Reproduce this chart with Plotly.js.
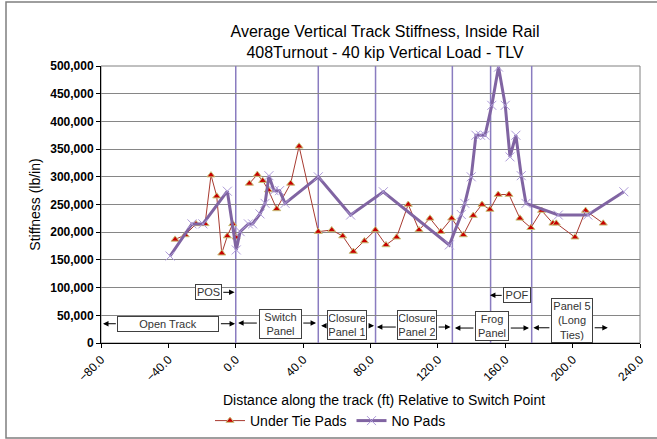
<!DOCTYPE html>
<html>
<head>
<meta charset="utf-8">
<script src="https://cdn.plot.ly/plotly-3.0.1.min.js"></script>
<style>
  html, body { margin: 0; padding: 0; background: #fff; }
  #chart { width: 657px; height: 439px; }
</style>
</head>
<body>
<div id="chart"></div>
<script>
// Stiffness measurements along the turnout (distance in ft from switch point, stiffness in lb/in)
const underPadsX = [-36, -30, -23.6, -18.2, -14.7, -11.3, -8.3, -5, -1.8, 0.2, 4,
  8.1, 12.8, 16, 19.4, 24.3, 32.6, 37.6, 49, 57, 63.5, 69.8, 76.4, 82.9, 89.2, 95.5,
  102.4, 108.8, 115.3, 121.7, 128.2, 135.1, 141, 146.2, 150.9, 155.8, 162.2, 168.7,
  175.2, 181.6, 188.3, 190.3, 201.4, 207.7, 218.2];
const underPadsY = [187000, 195000, 215000, 215000, 303000, 265000, 162000, 193000, 215000, 191000, null,
  288000, 304000, 293000, 276000, 242000, 288000, 355000, 201000, 204000, 193000, 165000, 184000, 204000, 177000, 191000,
  250000, 204000, 225000, 201000, 225000, 195000, 230000, 250000, 241000, 268000, 268000, 225000,
  208000, 239000, 216000, 216000, 191000, 239000, 216000];

const noPadsX = [-39, -26, -19.5, -5, 0.3, 2.6, 7.5, 10, 14.4, 17.4, 19.7, 22.7, 26, 29.3,
  49, 68.2, 87.6, 126.8, 133.9, 136, 139.8, 142.6, 145.3, 148, 152, 156, 160, 162.8,
  166.3, 169.5, 172.3, 191.5, 209, 230.4];
const noPadsY = [157000, 215000, 215000, 274000, 168000, 201000, 215000, 215000, 233000, 252000, 302000, 275000, 275000, 252000,
  300000, 231000, 273000, 177000, 232000, 252000, 300000, 375000, 375000, 375000, 429000, 498000, 429000, 336000,
  375000, 302000, 252000, 231000, 231000, 273000];

// Panel boundaries along the turnout (ft)
const sectionBounds = [0, 49, 83, 128.6, 151.3, 175.7];

// Panel labels: box centre, box width (px) and the extent arrows (ft)
const panels = [
  { text: 'Open Track', x: -40, y: 34800, w: 102, arrowY: 34800, left: [-70.3, -78.8], right: [-9.7, -0.4] },
  { text: 'Switch<br>Panel', x: 26.3, y: 34400, w: 43, arrowY: 36000, left: [13.4, 1.4], right: [39.2, 47.7] },
  { text: 'Closure<br>Panel 1', x: 66.3, y: 32400, w: 40, arrowY: 31000, left: [54.4, 50.7], right: [78.3, 82.1] },
  { text: 'Closure<br>Panel 2', x: 107.8, y: 32000, w: 40, arrowY: 28800, left: [95.9, 83.8], right: [119.6, 127.5] },
  { text: 'Frog<br>Panel', x: 152.2, y: 31500, w: 34, arrowY: 27000, left: [142, 130.1], right: [162.4, 174.1] },
  { text: 'Panel 5<br>(Long<br>Ties)', x: 199.7, y: 41000, w: 42, arrowY: 27500, left: [187.1, 176.7], right: [212.2, 220.9] }
];
// Point of switch / point of frog markers
const points = [
  { text: 'POS', x: -16.3, y: 91500, w: 27, tail: -8.3, head: -0.7 },
  { text: 'POF', x: 167, y: 86000, w: 28, tail: 158.8, head: 150.9 }
];

const FONT = 'Liberation Sans, Arial, Helvetica, sans-serif';

const traces = [
  {
    name: 'Under Tie Pads', x: underPadsX, y: underPadsY, type: 'scatter', mode: 'lines+markers',
    line: { color: '#a83a30', width: 1 },
    marker: { symbol: 'triangle-up', size: 7, color: '#c80000', line: { color: '#c8c27a', width: 1 } },
    connectgaps: false
  },
  {
    name: 'No Pads', x: noPadsX, y: noPadsY, type: 'scatter', mode: 'lines+markers',
    line: { color: '#8064a2', width: 3 },
    marker: { symbol: 'x-thin', size: 9, color: '#ad9ad8', line: { color: '#ad9ad8', width: 1 } }
  }
];

const PL = 101, PR = 640, PT = 66, PB = 343;
const px2paperX = px => (px - PL) / (PR - PL);
const py2paperY = py => (PB - py) / (PB - PT);

const shapes = [];
// plot-area frame
shapes.push({ type: 'rect', xref: 'paper', yref: 'paper', x0: 0, x1: 1, y0: 0, y1: 1,
  line: { color: '#808080', width: 1 }, layer: 'below' });
// outer chart frame
shapes.push({ type: 'rect', xref: 'paper', yref: 'paper',
  x0: px2paperX(6), x1: px2paperX(662), y0: py2paperY(438), y1: py2paperY(2),
  line: { color: '#7f7f7f', width: 1.5 } });
sectionBounds.forEach(b => shapes.push({
  type: 'line', xref: 'x', yref: 'y', x0: b, x1: b, y0: 0, y1: 500000,
  line: { color: '#8a7cc0', width: 1.5 }, layer: 'below'
}));

const annotations = [];
const boxStyle = {
  xref: 'x', yref: 'y', showarrow: false, bgcolor: '#ffffff', bordercolor: '#404040',
  borderwidth: 1, borderpad: 1, font: { family: FONT, size: 11, color: '#333333' }
};
function arrow(y, tail, head) {
  return { xref: 'x', yref: 'y', axref: 'x', ayref: 'y', x: head, y: y, ax: tail, ay: y,
    text: '', showarrow: true, arrowhead: 2, arrowsize: 1.1, arrowwidth: 1, arrowcolor: '#000000' };
}
panels.forEach(p => {
  annotations.push(arrow(p.arrowY, p.left[0], p.left[1]));
  annotations.push(arrow(p.arrowY, p.right[0], p.right[1]));
  annotations.push(Object.assign({}, boxStyle, { text: p.text, x: p.x, y: p.y, width: p.w - 4 }));
});
points.forEach(p => {
  annotations.push(arrow(p.y, p.tail, p.head));
  annotations.push(Object.assign({}, boxStyle, { text: p.text, x: p.x, y: p.y, width: p.w - 4 }));
});
// x-axis caption
annotations.push({
  xref: 'paper', yref: 'paper', x: px2paperX(384), y: py2paperY(400),
  xanchor: 'center', yanchor: 'middle', showarrow: false,
  text: 'Distance along the track (ft) Relative to Switch Point',
  font: { family: FONT, size: 14, color: '#000' }
});

const layout = {
  width: 657, height: 439,
  margin: { l: PL, r: 657 - PR, t: PT, b: 439 - PB, autoexpand: false },
  paper_bgcolor: '#ffffff', plot_bgcolor: '#ffffff',
  font: { family: FONT, size: 12, color: '#000' },
  title: {
    text: 'Average Vertical Track Stiffness, Inside Rail<br>408Turnout - 40 kip Vertical Load - TLV',
    font: { family: FONT, size: 16, color: '#000' },
    xref: 'container', yref: 'container', x: 385 / 657, y: 1 - 37 / 439,
    xanchor: 'center', yanchor: 'middle'
  },
  xaxis: {
    range: [-80, 240], tick0: 0, dtick: 40, tickformat: '.1f', tickangle: -45,
    showgrid: false, zeroline: false, showline: true, linecolor: '#000', linewidth: 1,
    ticks: 'outside', ticklen: 4, tickcolor: '#000', automargin: false,
    tickfont: { family: FONT, size: 12, color: '#000' }
  },
  yaxis: {
    range: [0, 500000], tick0: 0, dtick: 50000, tickformat: ',',
    showgrid: true, gridcolor: '#868686', gridwidth: 1, zeroline: false,
    showline: true, linecolor: '#000', linewidth: 1, automargin: false,
    ticks: 'outside', ticklen: 4, tickcolor: '#000',
    tickfont: { family: FONT, size: 12, color: '#000', weight: 'bold' },
    title: { text: 'Stiffness (lb/in)', font: { family: FONT, size: 14, color: '#000' }, standoff: 6 }
  },
  showlegend: true,
  legend: {
    orientation: 'h', x: px2paperX(210), y: py2paperY(421), xanchor: 'left', yanchor: 'middle',
    font: { family: FONT, size: 14, color: '#000' }, bgcolor: 'rgba(0,0,0,0)'
  },
  shapes: shapes,
  annotations: annotations
};

Plotly.newPlot('chart', traces, layout, { displayModeBar: false, staticPlot: true });
</script>
</body>
</html>
